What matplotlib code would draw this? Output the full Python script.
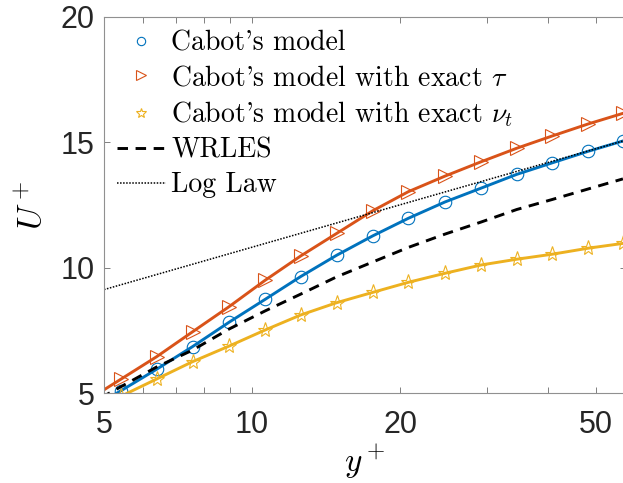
import matplotlib.pyplot as plt
from matplotlib.lines import Line2D
from matplotlib.font_manager import FontProperties

# y+ positions of the profile samples (first one lies left of the plotted range)
yplus = [4.57, 5.41, 6.40, 7.57, 8.98, 10.63, 12.56, 14.87, 17.60, 20.79,
         24.68, 29.22, 34.54, 40.8, 48.3, 56.8]
u_cabot = [4.25, 5.10, 5.96, 6.86, 7.83, 8.74, 9.65, 10.50, 11.27, 11.97,
           12.62, 13.17, 13.72, 14.18, 14.64, 15.05]
u_tau = [4.66, 5.56, 6.46, 7.45, 8.45, 9.50, 10.47, 11.37, 12.27, 13.03,
         13.65, 14.22, 14.76, 15.25, 15.73, 16.15]
u_nut = [4.27, 4.88, 5.57, 6.26, 6.88, 7.52, 8.12, 8.61, 9.02, 9.42,
         9.78, 10.11, 10.34, 10.54, 10.78, 10.97]
u_wrles = [4.47, 5.26, 6.05, 6.72, 7.56, 8.28, 8.95, 9.64, 10.23, 10.81,
           11.34, 11.82, 12.32, 12.72, 13.14, 13.54]
# log law is a straight line on a log axis: two end points
loglaw_y = [5, 56.8]
loglaw_u = [9.13, 15.05]

labels = ["Cabot's model", r"Cabot's model with exact $\tau$",
          r"Cabot's model with exact $\nu_t$", "WRLES", "Log Law"]

blue, orange, yellow = '#0072BD', '#D95319', '#EDB120'

plt.rcParams['mathtext.fontset'] = 'cm'
plt.rcParams['font.family'] = 'Liberation Sans'

fig = plt.figure(figsize=(6.23, 4.83), dpi=100)
ax = fig.add_axes([104 / 623, 89.7 / 483, (626 - 104) / 623, 376.6 / 483])

ax.plot(yplus, u_cabot, '-', color=blue, lw=2.1, marker='o', ms=9,
        mfc='none', mec=blue, mew=0.8)
ax.plot(yplus, u_tau, '-', color=orange, lw=2.1, marker='>', ms=9.5,
        mfc='none', mec=orange, mew=0.8)
ax.plot(yplus, u_nut, '-', color=yellow, lw=2.1, marker='*', ms=11,
        mfc='none', mec=yellow, mew=0.8)
ax.plot(yplus, u_wrles, color='black', lw=2.1, ls=(0, (3.6, 2.6)))
ax.plot(loglaw_y, loglaw_u, color='black', lw=1.1, ls=(0, (1, 1)))

ax.set_xscale('log')
ax.set_xlim(5, 5 * 10 ** (522 / 491.7))
ax.set_ylim(5, 20)
ax.set_xticks([5, 10, 20, 50])
ax.set_xticklabels(['5', '10', '20', '50'])
ax.set_xticks([6, 7, 8, 9, 30, 40], minor=True)
ax.set_xticklabels([], minor=True)
ax.set_yticks([5, 10, 15, 20])
ax.tick_params(which='both', direction='in', top=True, right=True,
               length=4.5, width=0.7, color='#808080', labelsize=22,
               labelcolor='#262626')
ax.tick_params(axis='x', which='major', pad=12)
ax.tick_params(axis='y', pad=7)
for s in ax.spines.values():
    s.set_color('#909090')
    s.set_linewidth(0.8)

ax.set_xlabel(r'$y^+$', fontsize=24, labelpad=2)
ax.set_ylabel(r'$U^+$', fontsize=24, labelpad=8)

handles = [
    Line2D([], [], ls='none', marker='o', ms=6, mfc='none', mec=blue, mew=0.8),
    Line2D([], [], ls='none', marker='>', ms=6.5, mfc='none', mec=orange, mew=0.8),
    Line2D([], [], ls='none', marker='*', ms=7.5, mfc='none', mec=yellow, mew=0.8),
    Line2D([], [], color='black', lw=2.1, ls=(0, (3.6, 2.6))),
    Line2D([], [], color='black', lw=1.1, ls=(0, (1, 1))),
]
ax.legend(handles, labels, loc='upper left', frameon=False,
          bbox_to_anchor=(106 / 623, 1 - 19 / 483), bbox_transform=fig.transFigure,
          borderaxespad=0, handlelength=1.75, handletextpad=0.2,
          labelspacing=0.3, prop=FontProperties(family='cmr10', size=20))

fig.savefig('out.png', dpi=100)
